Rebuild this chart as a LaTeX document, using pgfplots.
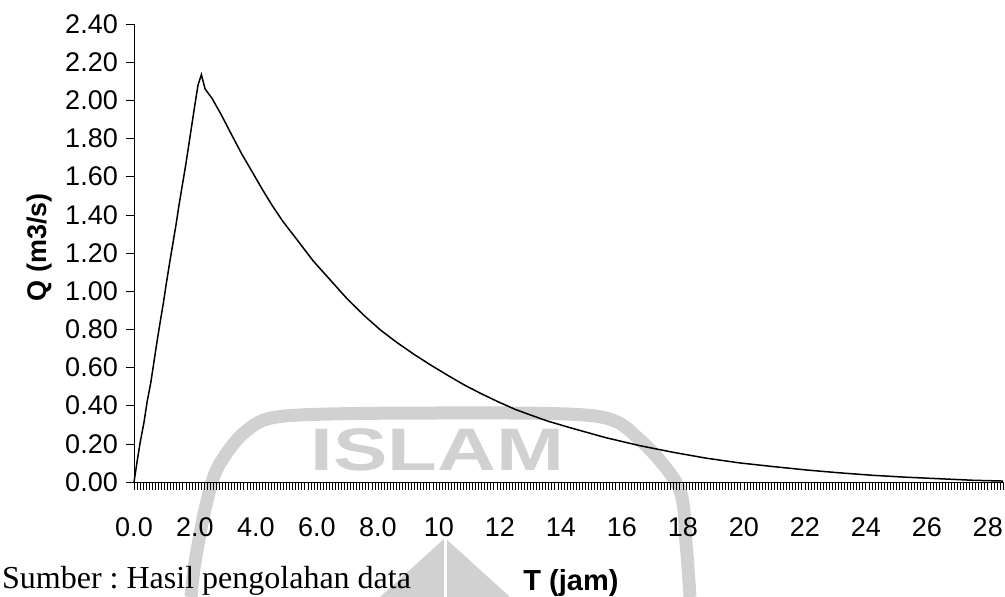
\documentclass[border=0pt]{standalone}
\usepackage{fontspec}
\setmainfont{Liberation Serif}
\newfontfamily\arial{Liberation Sans}
\usepackage{pgfplots}
\pgfplotsset{compat=1.18}
\frenchspacing
\begin{document}
\begin{tikzpicture}
\path[use as bounding box] (-134bp,-115bp) rectangle (871bp,482bp);
% faint watermark of the scanned page
\begin{scope}[black!18]
\draw[line width=13bp] plot[smooth] coordinates {(57bp,-115bp) (61bp,-80bp) (72bp,-23bp) (84bp,15bp) (111bp,50bp) (151bp,66bp) (306bp,69bp) (461bp,66bp) (506bp,42bp) (545bp,-6bp) (552bp,-61bp) (556bp,-115bp)};
\fill (246bp,-115bp) -- (311bp,-56bp) -- (376bp,-115bp) -- cycle;
\draw[white, line width=3bp] (311bp,-50bp) -- (311bp,-115bp);
\node[font=\arial\bfseries\fontsize{60bp}{60bp}\selectfont, xscale=1.36, inner sep=0pt, anchor=base] at (303.5bp,12bp) {ISLAM};
\end{scope}
\begin{axis}[
  at={(0bp,0bp)}, anchor=south west,
  scale only axis, width=869bp, height=458bp,
  xmin=0, xmax=28.5, ymin=0, ymax=2.4,
  axis x line=bottom, axis y line=left,
  axis line style={-, line width=0.8bp, black},
  xtick={0,2,4,6,8,10,12,14,16,18,20,22,24,26,28},
  xticklabels={0.0,2.0,4.0,6.0,8.0,10,12,14,16,18,20,22,24,26,28},
  minor xtick={0,0.1,...,28.5},
  ytick={0,0.2,0.4,0.6,0.8,1.0,1.2,1.4,1.6,1.8,2.0,2.2,2.4},
  yticklabels={0.00,0.20,0.40,0.60,0.80,1.00,1.20,1.40,1.60,1.80,2.00,2.20,2.40},
  tick align=outside, major tick length=8bp, minor tick length=8bp,
  major tick style={line width=0.6bp, black},
  minor tick style={line width=0.6bp, black},
  ticklabel style={font=\arial\fontsize{27bp}{30bp}\selectfont, inner sep=0pt},
  xticklabel style={anchor=base, yshift=-46bp},
  yticklabel style={anchor=east, xshift=-8bp},
  clip=false,
]
\addplot[black, line width=1.5bp] coordinates {
(0,0) (0.1,0.105) (0.2,0.205) (0.33,0.315) (0.43,0.42) (0.55,0.52) (0.65,0.625)
(0.75,0.73) (0.85,0.83) (0.96,0.935) (1.06,1.04) (1.16,1.14) (1.27,1.245)
(1.38,1.35) (1.48,1.455) (1.59,1.56) (1.70,1.665) (1.80,1.77) (1.90,1.875)
(2.00,1.98) (2.10,2.08) (2.21,2.135)
(2.33,2.06) (2.56,2.01) (2.86,1.925) (3.20,1.82) (3.53,1.72) (3.87,1.627)
(4.21,1.533) (4.54,1.447) (4.88,1.366) (5.32,1.275) (5.88,1.158) (6.44,1.058)
(6.99,0.96) (7.55,0.872) (8.10,0.794) (8.65,0.728) (9.21,0.666) (9.76,0.61)
(10.32,0.556) (10.86,0.506) (11.41,0.461) (11.96,0.419) (12.51,0.38) (13.06,0.348)
(13.55,0.32) (14.38,0.281) (15.48,0.232) (16.57,0.191) (17.67,0.156) (18.76,0.125)
(19.86,0.10) (20.95,0.081) (22.05,0.063) (23.14,0.048) (24.24,0.035) (25.33,0.025)
(26.43,0.017) (27.52,0.009) (28.50,0.005)
};
\end{axis}
\node[font=\arial\bfseries\fontsize{29bp}{30bp}\selectfont, anchor=base, inner sep=0pt] at (437bp,-108bp) {T (jam)};
\node[font=\fontsize{32bp}{34bp}\selectfont, anchor=base west, inner sep=0pt] at (-132bp,-106bp) {Sumber : Hasil pengolahan data};
\node[font=\arial\bfseries\fontsize{27bp}{30bp}\selectfont, rotate=90, inner sep=0pt] at (-94bp,235bp) {Q (m3/s)};
\end{tikzpicture}
\end{document}
